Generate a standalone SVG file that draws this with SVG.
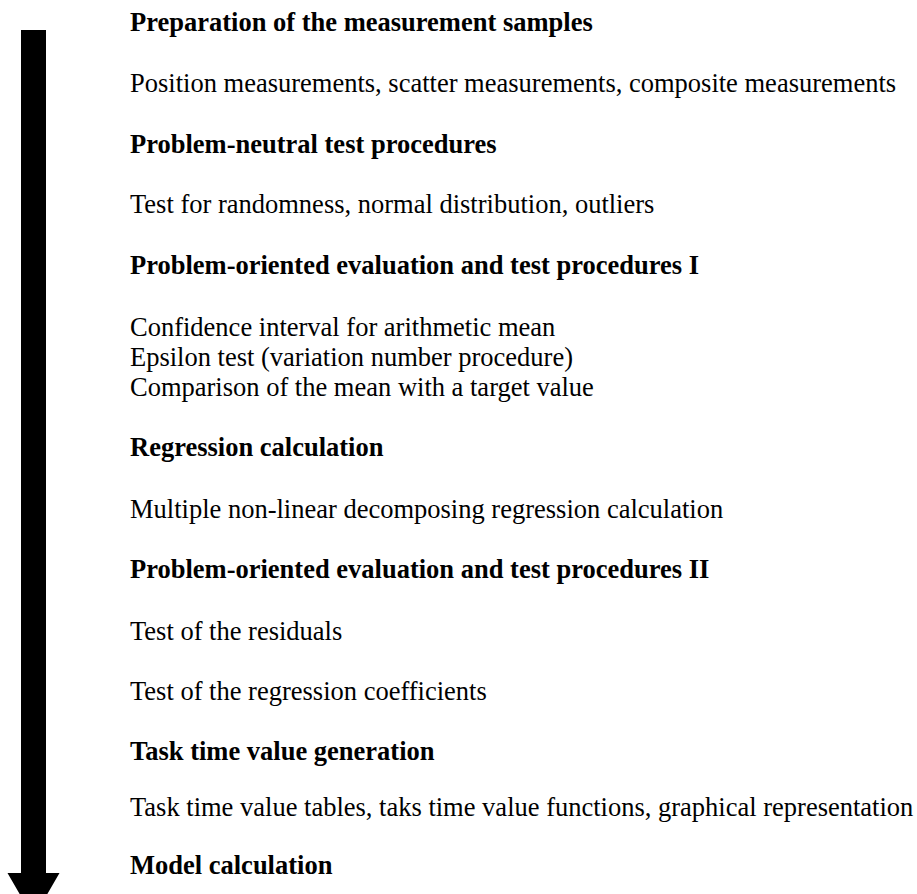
<svg xmlns="http://www.w3.org/2000/svg" width="917" height="894" viewBox="0 0 917 894">
<style>
text { font-family: "Liberation Serif", "Times New Roman", serif; font-size: 26.5px; fill: #000; }
.h { font-weight: bold; }
</style>
<rect width="917" height="894" fill="#fff"/>
<g id="connectors">
<polygon points="21,30 46,30 46,873 59.5,873 33.5,918 7.5,873 21,873" fill="#000"/>
</g>
<g id="step1">
<text class="h" x="130" y="31">Preparation of the measurement samples</text>
<text x="130" y="92">Position measurements, scatter measurements, composite measurements</text>
</g>
<g id="step2">
<text class="h" x="130" y="153">Problem-neutral test procedures</text>
<text x="130" y="213">Test for randomness, normal distribution, outliers</text>
</g>
<g id="step3">
<text class="h" x="130" y="274">Problem-oriented evaluation and test procedures I</text>
<text x="130" y="336">Confidence interval for arithmetic mean</text>
<text x="130" y="366">Epsilon test (variation number procedure)</text>
<text x="130" y="396">Comparison of the mean with a target value</text>
</g>
<g id="step4">
<text class="h" x="130" y="456">Regression calculation</text>
<text x="130" y="518">Multiple non-linear decomposing regression calculation</text>
</g>
<g id="step5">
<text class="h" x="130" y="578">Problem-oriented evaluation and test procedures II</text>
<text x="130" y="640">Test of the residuals</text>
<text x="130" y="700">Test of the regression coefficients</text>
</g>
<g id="step6">
<text class="h" x="130" y="760">Task time value generation</text>
<text x="130" y="816">Task time value tables, taks time value functions, graphical representation</text>
</g>
<g id="step7">
<text class="h" x="130" y="874">Model calculation</text>
</g>
</svg>
